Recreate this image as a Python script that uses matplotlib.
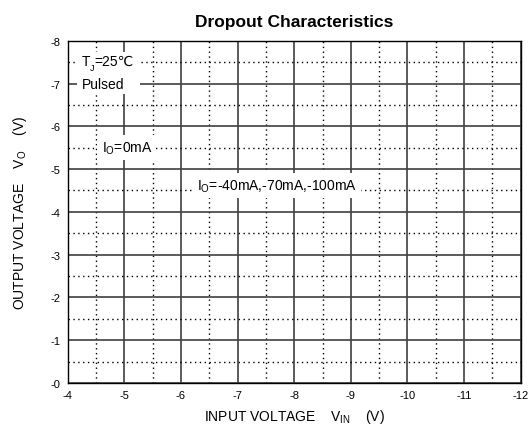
import matplotlib
matplotlib.use("Agg")
import matplotlib.pyplot as plt
from matplotlib.patches import Rectangle

plt.rcParams['font.family'] = ['Liberation Sans', 'DejaVu Sans']
plt.rcParams['mathtext.fontset'] = 'custom'
plt.rcParams['mathtext.rm'] = 'Liberation Sans'
plt.rcParams['mathtext.it'] = 'Liberation Sans'

title = "Dropout Characteristics"
x_major = [-4, -5, -6, -7, -8, -9, -10, -11, -12]
x_labels = ["-4", "-5", "-6", "-7", "-8", "-9", "-10", "-11", "-12"]
x_minor = [-4.5, -5.5, -6.5, -7.5, -8.5, -9.5, -10.5, -11.5]
y_major = [0, -1, -2, -3, -4, -5, -6, -7, -8]
y_labels = ["-0", "-1", "-2", "-3", "-4", "-5", "-6", "-7", "-8"]
y_minor = [-0.5, -1.5, -2.5, -3.5, -4.5, -5.5, -6.5, -7.5]
xlabel = r"INPUT VOLTAGE    V$_{\mathregular{IN}}$    (V)"
ylabel = r"OUTPUT VOLTAGE    V$_{\mathregular{O}}$    (V)"
cond_parts = ["T", "J", "=25℃"]
cond_line2 = "Pulsed"
ann_texts = [r"I$_{\mathregular{O}}$=0mA", r"I$_{\mathregular{O}}$=-40mA,-70mA,-100mA"]
ann_x = [-4.6, -6.28]
ann_y = [-5.5, -4.61]

fig = plt.figure(figsize=(5.28, 4.27), dpi=100)
ax = fig.add_axes([0.1282, 0.1007, 0.9862 - 0.1282, 0.9023 - 0.1007])
ax.set_xlim(x_major[0], x_major[-1])
ax.set_ylim(y_major[0], y_major[-1])

ax.set_xticks(x_major)
ax.set_xticklabels(x_labels)
ax.set_yticks(y_major)
ax.set_yticklabels(y_labels)
ax.set_xticks(x_minor, minor=True)
ax.set_yticks(y_minor, minor=True)
ax.tick_params(which='both', length=0, labelsize=8, pad=5)
ax.grid(which='major', color='#404040', linewidth=1.2, linestyle='-')
ax.grid(which='minor', color='black', linewidth=1.0, linestyle=(0, (1, 2.5)))
ax.set_axisbelow(True)
for s in ax.spines.values():
    s.set_color('black')
    s.set_linewidth(1.0)

ax.set_xlabel(xlabel, fontsize=10, labelpad=5)
ax.set_ylabel(ylabel, fontsize=10, labelpad=16)
ax.set_title(title, fontsize=12.5, fontweight='bold', pad=10.5)

# condition box (white background covering grid)
ax.add_patch(Rectangle((-4.164, -7.73), -1.113, 0.98, facecolor='white',
                       edgecolor='none', zorder=4))
t1 = ax.text(-4.25, -7.52, cond_parts[0], fontsize=10, ha='left', va='center', zorder=5)
t2 = ax.annotate(cond_parts[1], xy=(1, 0), xycoords=t1, xytext=(0, 0.5),
                 textcoords='offset points', fontsize=6.5, ha='left', va='center', zorder=5)
t3 = ax.annotate(cond_parts[2], xy=(1, 0.5), xycoords=(t2, t1), fontsize=10,
                 ha='left', va='center', zorder=5)
ax.text(-4.25, -7.0, cond_line2, fontsize=10, ha='left', va='center', zorder=5)

for t, x, y in zip(ann_texts, ann_x, ann_y):
    ax.text(x, y, t, fontsize=10, ha='left', va='center',
            bbox=dict(facecolor='white', edgecolor='none', pad=3), zorder=5)

fig.savefig("out.png", dpi=100)
